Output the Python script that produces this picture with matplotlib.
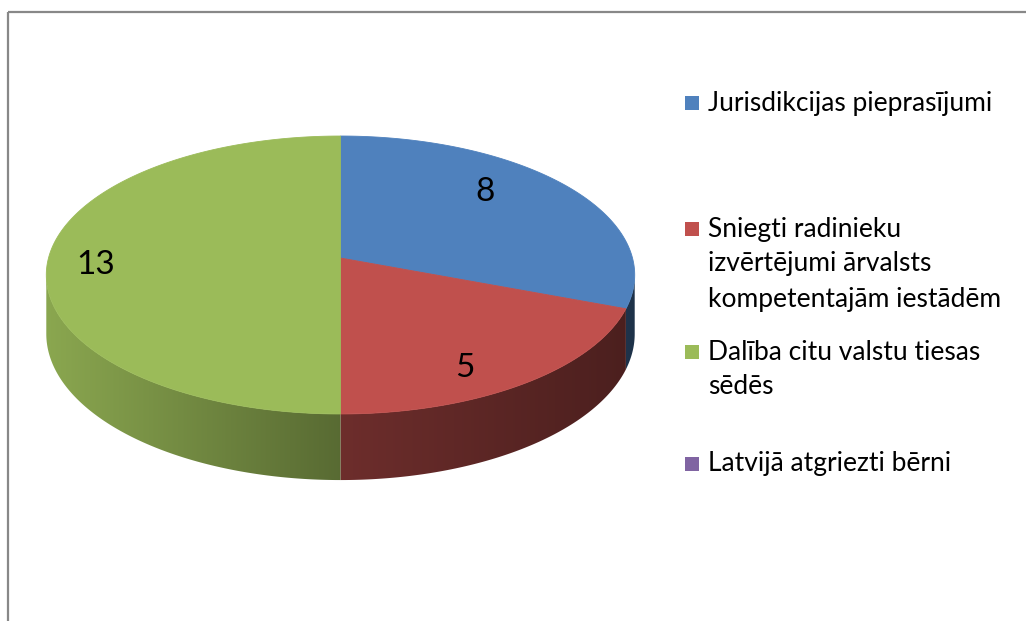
import matplotlib.pyplot as plt
import numpy as np
from matplotlib.patches import Polygon, Rectangle

# data
labels = ["Jurisdikcijas pieprasījumi",
          "Sniegti radinieku\nizvērtējumi ārvalsts\nkompetentajām iestādēm",
          "Dalība citu valstu tiesas\nsēdēs",
          "Latvijā atgriezti bērni"]
values = [8, 5, 13, 0]
colors = ["#4F81BD", "#C0504D", "#9BBB59", "#8064A2"]

plt.rcParams['font.family'] = ['Lato', 'DejaVu Sans']

# pie geometry in pixels (perspective ellipse)
cx, cy0 = 340.5, 258.0
c, b, k = 292.0, 136.9, 0.1223
depth = 58.0


def proj(theta, r=1.0, drop=0.0):
    X = r * np.sin(theta)
    Z = r * np.cos(theta)
    s = 1.0 / (1.0 + k * Z)
    return cx + c * X * s, cy0 - b * Z * s + drop * s


def shade_factor(sx):
    return np.where(sx < 0, 0.57 - 0.32 * sx, 0.57 - 0.18 * sx)


fig = plt.figure(figsize=(10.26, 6.21), dpi=100)
ax = fig.add_axes([0, 0, 1, 1])
ax.set_xlim(0, 1026)
ax.set_ylim(621, 0)
ax.axis('off')

total = sum(values)
edges = np.cumsum([0] + values) / total * 2 * np.pi

# side wall: gradient image clipped to each slice's wall
t_lo, t_hi = np.pi / 2 + np.arcsin(k), 3 * np.pi / 2 - np.arcsin(k)
gx = np.linspace(30, 660, 630)
sx = np.clip((gx - cx) / c, -1, 1)
fac = shade_factor(sx)
for i, v in enumerate(values):
    if v == 0:
        continue
    a1, a2 = max(edges[i], t_lo), min(edges[i + 1], t_hi)
    if a2 <= a1:
        continue
    tt = np.linspace(a1, a2, 200)
    xt, yt = proj(tt)
    xb, yb = proj(tt[::-1], drop=depth)
    pts = list(zip(xt, yt)) + list(zip(xb, yb))
    poly = Polygon(pts, closed=True, facecolor='none', edgecolor='none')
    ax.add_patch(poly)
    rgb = np.array(plt.matplotlib.colors.to_rgb(colors[i]))
    img = np.clip(fac[None, :, None] * rgb[None, None, :], 0, 1)
    img = np.repeat(img, 2, axis=0)
    im = ax.imshow(img, extent=(30, 660, 500, 240), aspect='auto',
                   interpolation='bilinear', zorder=1)
    im.set_clip_path(poly)

# top face
for i, v in enumerate(values):
    if v == 0:
        continue
    tt = np.linspace(edges[i], edges[i + 1], 200)
    xs, ys = proj(tt)
    pts = [(cx, cy0)] + list(zip(xs, ys))
    ax.add_patch(Polygon(pts, closed=True, facecolor=colors[i],
                         edgecolor=colors[i], lw=0.6, zorder=2))

# data labels
label_pos = [(485, 192), (465, 368), (96, 265)]
for (lx, ly), v in zip(label_pos, values):
    ax.text(lx, ly, str(v), fontsize=24, ha='center', va='center',
            color='black', zorder=3)

# legend
leg_y = [103, 229, 352, 464]
line_h = 35
for y, lab, col in zip(leg_y, labels, colors):
    ax.add_patch(Rectangle((685, y - 7), 14, 14, facecolor=col, edgecolor='none'))
    for j, line in enumerate(lab.split("\n")):
        ax.text(708, y + j * line_h, line, fontsize=19, ha='left', va='center',
                color='black')

# chart border
ax.plot([8, 1026], [12, 12], color='#888888', lw=1.6, solid_capstyle='butt')
ax.plot([8, 8], [12, 621], color='#888888', lw=1.6, solid_capstyle='butt')

ax.set_xlim(0, 1026)
ax.set_ylim(621, 0)
plt.savefig("out.png", dpi=100)
